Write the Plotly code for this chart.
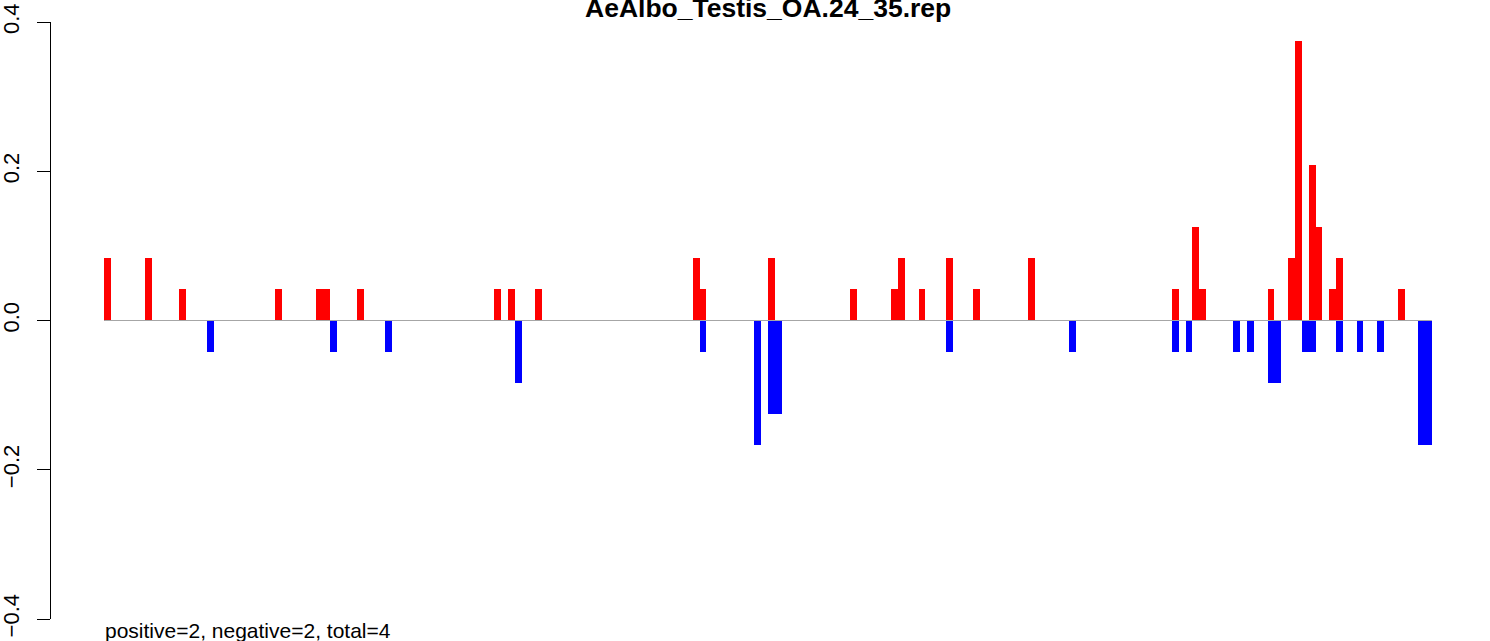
import plotly.graph_objects as go

# ---- data ----
n_bins = 194
title_text = "AeAlbo_Testis_OA.24_35.rep"
footer_text = "positive=2, negative=2, total=4"

pos_idx = [0, 6, 11, 25, 31, 32, 37, 57, 59, 63, 86, 87, 97, 109, 115, 116, 119,
           123, 127, 135, 156, 159, 160, 170, 173, 174, 176, 177, 179, 180, 189]
pos_val = [0.0833, 0.0833, 0.0417, 0.0417, 0.0417, 0.0417, 0.0417, 0.0417, 0.0417,
           0.0417, 0.0833, 0.0417, 0.0833, 0.0417, 0.0417, 0.0833, 0.0417, 0.0833,
           0.0417, 0.0833, 0.0417, 0.125, 0.0417, 0.0417, 0.0833, 0.375, 0.2083,
           0.125, 0.0417, 0.0833, 0.0417]

neg_idx = [15, 33, 41, 60, 87, 95, 97, 98, 123, 141, 156, 158, 165, 167, 170, 171,
           175, 176, 180, 183, 186, 192, 193]
neg_val = [-0.0417, -0.0417, -0.0417, -0.0833, -0.0417, -0.1667, -0.125, -0.125,
           -0.0417, -0.0417, -0.0417, -0.0417, -0.0417, -0.0417, -0.0833, -0.0833,
           -0.0417, -0.0417, -0.0417, -0.0417, -0.0417, -0.1667, -0.1667]

y_ticks = [-0.4, -0.2, 0.0, 0.2, 0.4]
y_tick_text = ["\u22120.4", "\u22120.2", "0.0", "0.2", "0.4"]

FONT = "Liberation Sans, Arial, Helvetica, sans-serif"

fig = go.Figure()
fig.add_trace(go.Bar(x=[i + 0.5 for i in pos_idx], y=pos_val, width=1,
                     marker=dict(color="#FF0000", line=dict(width=0)),
                     showlegend=False, hoverinfo="skip"))
fig.add_trace(go.Bar(x=[i + 0.5 for i in neg_idx], y=neg_val, width=1,
                     marker=dict(color="#0000FF", line=dict(width=0)),
                     showlegend=False, hoverinfo="skip"))

pad = 0.04 * n_bins
fig.add_shape(type="line", xref="x", yref="y", x0=0, x1=n_bins, y0=0, y1=0,
              line=dict(color="#A6A6A6", width=1), layer="above")

fig.update_layout(
    width=1490, height=641,
    margin=dict(l=51, r=5, t=22, b=22, autoexpand=False),
    paper_bgcolor="white", plot_bgcolor="white",
    barmode="overlay", bargap=0,
    font=dict(family=FONT, color="black"),
    xaxis=dict(range=[-pad, n_bins + pad], visible=False, fixedrange=True,
               automargin=False),
    yaxis=dict(range=[-0.4, 0.4], tickvals=y_ticks, ticktext=y_tick_text,
               automargin=False, ticklabelstandoff=9, fixedrange=True,
               showgrid=False, zeroline=False, showline=True, linecolor="black",
               linewidth=1, ticks="outside", ticklen=13, tickwidth=1,
               tickcolor="black", tickangle=-90,
               tickfont=dict(family=FONT, size=22, color="black")),
    annotations=[
        dict(text="<b>" + title_text + "</b>", xref="paper", yref="paper",
             x=0.5, y=1.0227, xanchor="center", yanchor="middle", showarrow=False,
             font=dict(family=FONT, size=26.5, color="black")),
        dict(text=footer_text, xref="paper", yref="paper",
             x=(103 - 51) / 1434, y=-0.0194, xanchor="left", yanchor="middle",
             showarrow=False, font=dict(family=FONT, size=21, color="black")),
    ],
)

fig.write_html("out.html", config={"displayModeBar": False},
               post_script="document.body.style.margin='0px';document.body.style.overflow='hidden';")
